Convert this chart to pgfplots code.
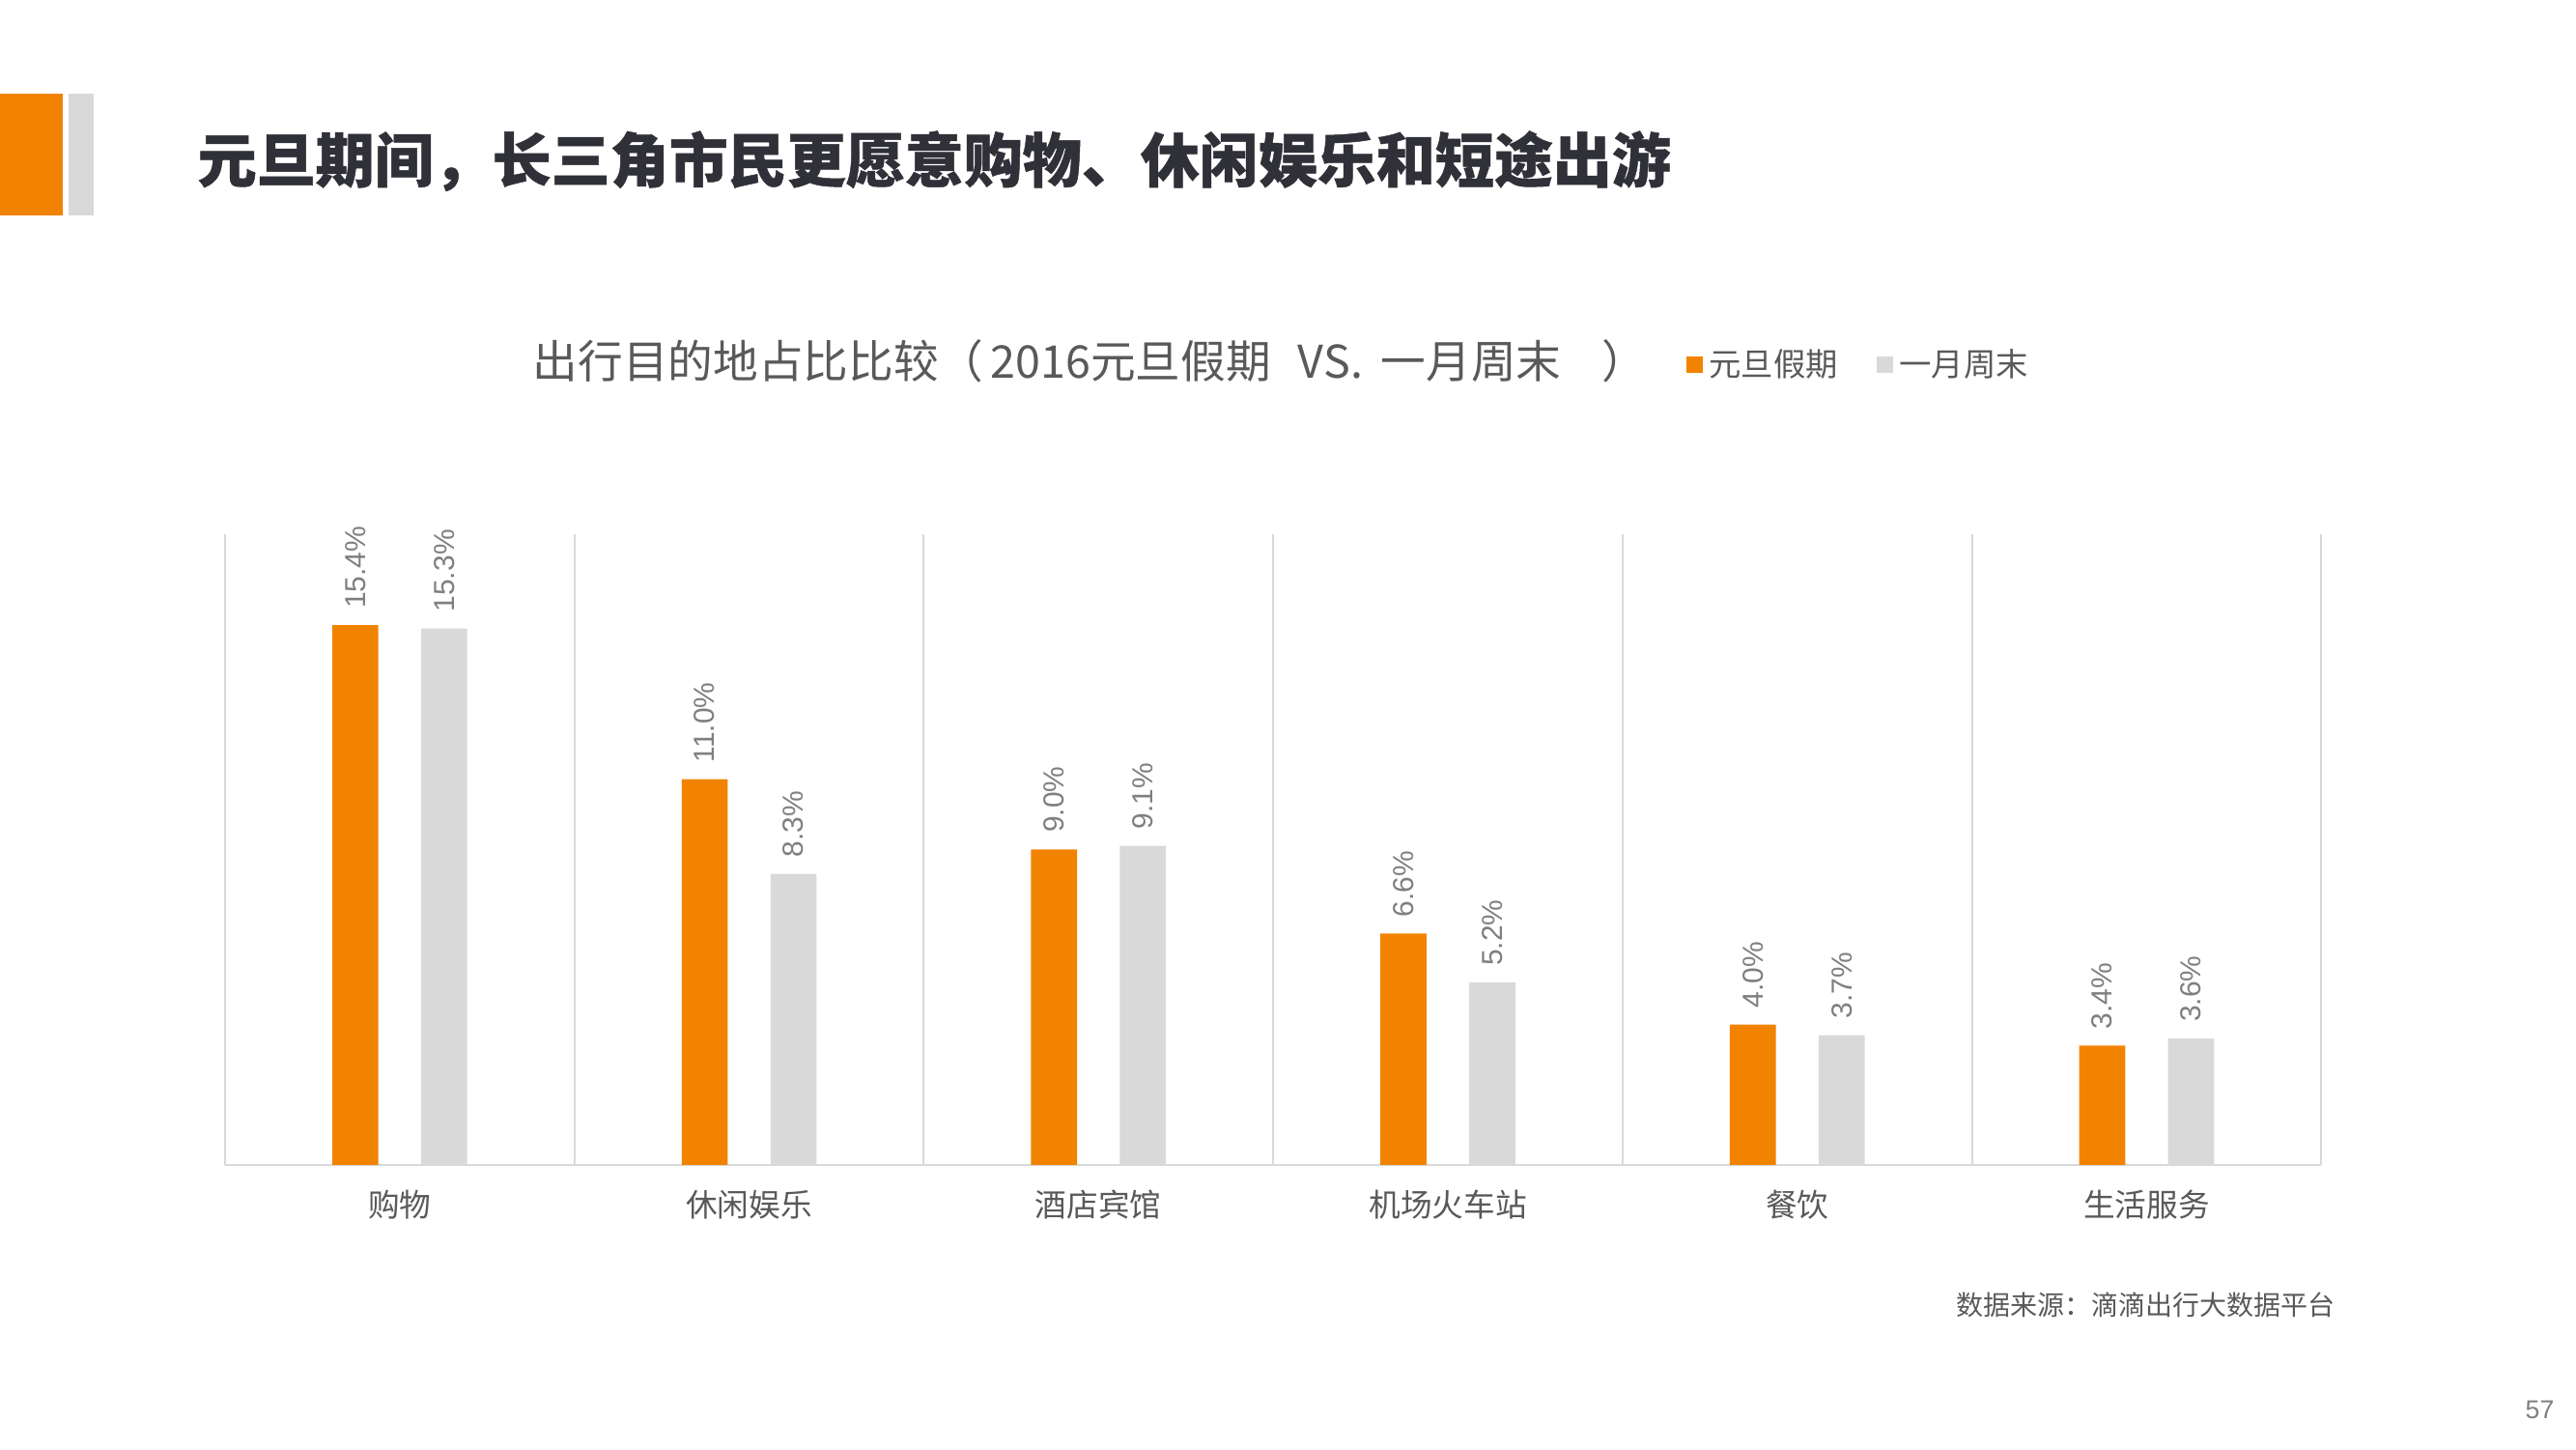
\documentclass[border=0pt]{standalone}
\usepackage{pgfplots}
\pgfplotsset{compat=1.18}
\usepackage{fontspec}
\setmainfont{Noto Sans CJK SC}
\newfontfamily\cjk{Noto Sans CJK SC}
\newfontfamily\cjkheavy[BoldFeatures={FakeBold=0.8}]{Noto Sans CJK SC}
\newfontfamily\arial{Liberation Sans}
\definecolor{didiorange}{HTML}{F28300}
\definecolor{lightgr}{HTML}{D9D9D9}
\definecolor{textgr}{HTML}{595959}
\definecolor{labelgr}{HTML}{7F7F7F}
\definecolor{titlegr}{HTML}{303038}
\begin{document}
\begin{tikzpicture}
% page frame, 800pt x 450pt, origin top left
\path[fill=white, use as bounding box] (0,0) rectangle (800pt,-450pt);
\fill[didiorange] (0,-29.1pt) rectangle (19.4pt,-66.8pt);
\fill[lightgr] (21.4pt,-29.1pt) rectangle (29.1pt,-66.8pt);
\node[anchor=west, inner sep=0pt, text=titlegr, font=\cjkheavy\bfseries\fontsize{18.3}{20}\selectfont]
  at (61.2pt,-50pt) {元旦期间，长三角市民更愿意购物、休闲娱乐和短途出游};
\node[anchor=center, inner sep=0pt, text=textgr, font=\cjk\fontsize{14}{16}\selectfont]
  at (338.5pt,-112.2pt) {出行目的地占比比较（\hspace{0.15em}2016元旦假期\hspace{0.6em}VS.\hspace{0.4em}一月周末\hspace{0.9em}）};
\node[anchor=east, inner sep=0pt, text=textgr, font=\cjk\fontsize{8.4}{10}\selectfont]
  at (725.5pt,-405.1pt) {数据来源：滴滴出行大数据平台};
\node[anchor=east, inner sep=0pt, text=labelgr, font=\arial\fontsize{8}{10}\selectfont]
  at (793.4pt,-437.7pt) {57};

\begin{axis}[
    at={(69.9pt,-361.7pt)}, anchor=south west,
    width=651pt, height=195.9pt, scale only axis,
    ybar, bar width=14.3pt,
    xmin=-0.5, xmax=5.5, ymin=0, ymax=18,
    axis x line*=bottom, axis y line=none,
    x axis line style={draw=lightgr, line width=0.8pt},
    xtick={0,...,5},
    xticklabels={购物,休闲娱乐,酒店宾馆,机场火车站,餐饮,生活服务},
    minor xtick={-0.5,0.5,...,5.5},
    xminorgrids,
    minor grid style={draw=lightgr, line width=0.6pt},
    major tick length=0pt, minor tick length=0pt,
    ytick=\empty,
    xticklabel style={anchor=base, inner sep=0pt, yshift=-16pt,
        text=textgr, font=\cjk\fontsize{9.8}{11}\selectfont},
    /pgf/number format/assume math mode=true,
    nodes near coords={\pgfmathprintnumber[fixed,fixed zerofill,precision=1]{\pgfplotspointmeta}\%},
    every node near coord/.append style={rotate=90, anchor=west,
        inner xsep=5pt, inner ysep=0pt, text=labelgr,
        font=\arial\fontsize{9}{10}\selectfont},
    legend image code/.code={\fill[#1, draw=none] (0pt,-2.55pt) rectangle (5.1pt,2.55pt);},
    legend columns=2,
    legend style={at={(0.6968,1.268)}, anchor=west, draw=none, fill=none,
        inner sep=0pt, font=\cjk\fontsize{10}{11}\selectfont, text=textgr,
        /tikz/every even column/.append style={column sep=10pt},
        /tikz/every odd column/.append style={column sep=0pt}},
]
\addplot[fill=didiorange, draw=none, bar shift=-13.8pt] coordinates {
    (0,15.4) (1,11.0) (2,9.0) (3,6.6) (4,4.0) (5,3.4)};
\addplot[fill=lightgr, draw=none, bar shift=13.8pt] coordinates {
    (0,15.3) (1,8.3) (2,9.1) (3,5.2) (4,3.7) (5,3.6)};
\legend{元旦假期,一月周末}
\end{axis}
\end{tikzpicture}
\end{document}
